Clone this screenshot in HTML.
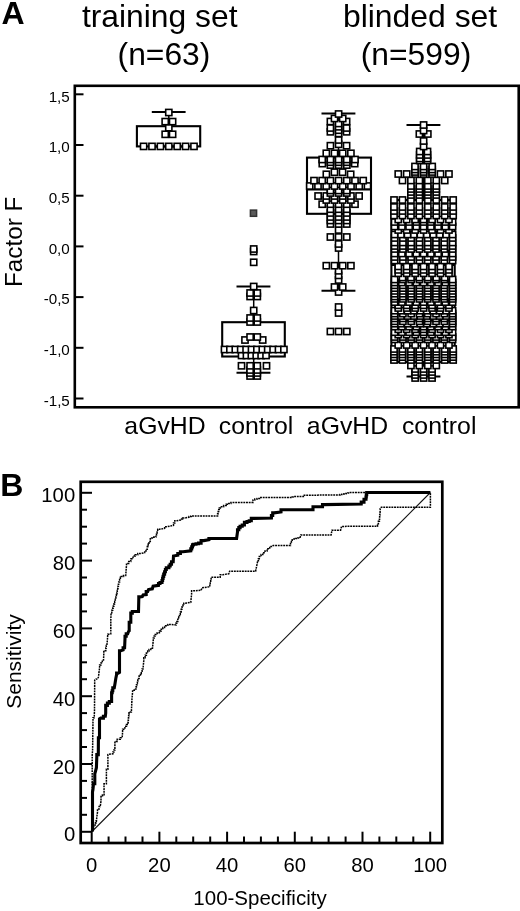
<!DOCTYPE html>
<html><head><meta charset="utf-8"><title>Figure</title>
<style>
html,body{margin:0;padding:0;background:#fff;}
body{width:520px;height:911px;overflow:hidden;}
svg{display:block;}
svg text{font-family:'Liberation Sans', Arial, Helvetica, sans-serif;fill:#000;font-variant-ligatures:none;}
</style></head><body>
<svg width="520" height="911" viewBox="0 0 520 911">
<rect width="520" height="911" fill="#fff"/>
<rect x="74.8" y="85.8" width="443.9" height="321.5" fill="none" stroke="#000" stroke-width="2.6"/>
<line x1="75" y1="94.3" x2="83.5" y2="94.3" stroke="#000" stroke-width="2"/>
<text x="69.8" y="101.6" font-size="15.2" text-anchor="end">1,5</text>
<line x1="75" y1="145.0" x2="83.5" y2="145.0" stroke="#000" stroke-width="2"/>
<text x="69.8" y="152.3" font-size="15.2" text-anchor="end">1,0</text>
<line x1="75" y1="195.7" x2="83.5" y2="195.7" stroke="#000" stroke-width="2"/>
<text x="69.8" y="203.0" font-size="15.2" text-anchor="end">0,5</text>
<line x1="75" y1="246.4" x2="83.5" y2="246.4" stroke="#000" stroke-width="2"/>
<text x="69.8" y="253.7" font-size="15.2" text-anchor="end">0,0</text>
<line x1="75" y1="297.1" x2="83.5" y2="297.1" stroke="#000" stroke-width="2"/>
<text x="69.8" y="304.4" font-size="15.2" text-anchor="end">-0,5</text>
<line x1="75" y1="347.8" x2="83.5" y2="347.8" stroke="#000" stroke-width="2"/>
<text x="69.8" y="355.1" font-size="15.2" text-anchor="end">-1,0</text>
<line x1="75" y1="398.5" x2="83.5" y2="398.5" stroke="#000" stroke-width="2"/>
<text x="69.8" y="405.8" font-size="15.2" text-anchor="end">-1,5</text>
<line x1="168.8" y1="112.0" x2="168.8" y2="126.2" stroke="#000" stroke-width="1.5"/>
<line x1="168.8" y1="146.4" x2="168.8" y2="146.4" stroke="#000" stroke-width="1.5"/>
<line x1="151.8" y1="112.0" x2="185.6" y2="112.0" stroke="#000" stroke-width="2"/>
<line x1="151.8" y1="146.4" x2="185.6" y2="146.4" stroke="#000" stroke-width="2"/>
<rect x="136.9" y="126.2" width="63.30" height="20.20" fill="none" stroke="#000" stroke-width="2.1"/>
<line x1="253.7" y1="286.5" x2="253.7" y2="322.2" stroke="#000" stroke-width="1.5"/>
<line x1="253.7" y1="356.5" x2="253.7" y2="372.7" stroke="#000" stroke-width="1.5"/>
<line x1="236.5" y1="286.5" x2="270.4" y2="286.5" stroke="#000" stroke-width="2"/>
<line x1="236.5" y1="372.7" x2="270.4" y2="372.7" stroke="#000" stroke-width="2"/>
<rect x="222.2" y="322.2" width="62.60" height="34.30" fill="none" stroke="#000" stroke-width="2.1"/>
<line x1="222.2" y1="349.5" x2="284.8" y2="349.5" stroke="#000" stroke-width="2.1"/>
<line x1="338.5" y1="113.5" x2="338.5" y2="157.6" stroke="#000" stroke-width="1.5"/>
<line x1="338.5" y1="213.8" x2="338.5" y2="290.8" stroke="#000" stroke-width="1.5"/>
<line x1="321.5" y1="113.5" x2="355.4" y2="113.5" stroke="#000" stroke-width="2"/>
<line x1="321.5" y1="290.8" x2="355.4" y2="290.8" stroke="#000" stroke-width="2"/>
<rect x="307.0" y="157.6" width="64.00" height="56.20" fill="none" stroke="#000" stroke-width="2.1"/>
<line x1="307.0" y1="189.5" x2="371.0" y2="189.5" stroke="#000" stroke-width="2.1"/>
<line x1="423.5" y1="125.0" x2="423.5" y2="200.0" stroke="#000" stroke-width="1.5"/>
<line x1="423.5" y1="362.0" x2="423.5" y2="376.5" stroke="#000" stroke-width="1.5"/>
<line x1="406.5" y1="125.0" x2="440.4" y2="125.0" stroke="#000" stroke-width="2"/>
<line x1="406.5" y1="376.5" x2="440.4" y2="376.5" stroke="#000" stroke-width="2"/>
<rect x="391.4" y="200.0" width="63.30" height="162.00" fill="none" stroke="#000" stroke-width="2.1"/>
<line x1="391.4" y1="265.0" x2="454.7" y2="265.0" stroke="#000" stroke-width="2.1"/>
<g fill="#fff" stroke="#000" stroke-width="1.6">
<rect x="412.05" y="374.90" width="6.20" height="6.20"/>
<rect x="420.50" y="374.90" width="6.20" height="6.20"/>
<rect x="428.95" y="374.90" width="6.20" height="6.20"/>
<rect x="247.00" y="372.90" width="6.20" height="6.20"/>
<rect x="254.20" y="372.90" width="6.20" height="6.20"/>
<rect x="412.05" y="371.90" width="6.20" height="6.20"/>
<rect x="420.50" y="371.90" width="6.20" height="6.20"/>
<rect x="428.95" y="371.90" width="6.20" height="6.20"/>
<rect x="247.00" y="369.90" width="6.20" height="6.20"/>
<rect x="254.20" y="369.90" width="6.20" height="6.20"/>
<rect x="412.05" y="368.90" width="6.20" height="6.20"/>
<rect x="420.50" y="368.90" width="6.20" height="6.20"/>
<rect x="428.95" y="368.90" width="6.20" height="6.20"/>
<rect x="247.00" y="366.90" width="6.20" height="6.20"/>
<rect x="254.20" y="366.90" width="6.20" height="6.20"/>
<rect x="412.05" y="365.90" width="6.20" height="6.20"/>
<rect x="420.50" y="365.90" width="6.20" height="6.20"/>
<rect x="428.95" y="365.90" width="6.20" height="6.20"/>
<rect x="238.40" y="362.70" width="6.20" height="6.20"/>
<rect x="247.00" y="362.70" width="6.20" height="6.20"/>
<rect x="254.20" y="362.70" width="6.20" height="6.20"/>
<rect x="263.40" y="362.70" width="6.20" height="6.20"/>
<rect x="407.82" y="362.40" width="6.20" height="6.20"/>
<rect x="416.27" y="362.40" width="6.20" height="6.20"/>
<rect x="424.73" y="362.40" width="6.20" height="6.20"/>
<rect x="433.18" y="362.40" width="6.20" height="6.20"/>
<rect x="390.93" y="356.90" width="6.20" height="6.20"/>
<rect x="399.38" y="356.90" width="6.20" height="6.20"/>
<rect x="407.82" y="356.90" width="6.20" height="6.20"/>
<rect x="416.27" y="356.90" width="6.20" height="6.20"/>
<rect x="424.73" y="356.90" width="6.20" height="6.20"/>
<rect x="433.18" y="356.90" width="6.20" height="6.20"/>
<rect x="441.62" y="356.90" width="6.20" height="6.20"/>
<rect x="450.07" y="356.90" width="6.20" height="6.20"/>
<rect x="390.93" y="354.00" width="6.20" height="6.20"/>
<rect x="399.38" y="354.00" width="6.20" height="6.20"/>
<rect x="407.82" y="354.00" width="6.20" height="6.20"/>
<rect x="416.27" y="354.00" width="6.20" height="6.20"/>
<rect x="424.73" y="354.00" width="6.20" height="6.20"/>
<rect x="433.18" y="354.00" width="6.20" height="6.20"/>
<rect x="441.62" y="354.00" width="6.20" height="6.20"/>
<rect x="450.07" y="354.00" width="6.20" height="6.20"/>
<rect x="238.45" y="352.40" width="6.20" height="6.20"/>
<rect x="243.35" y="352.40" width="6.20" height="6.20"/>
<rect x="248.25" y="352.40" width="6.20" height="6.20"/>
<rect x="253.15" y="352.40" width="6.20" height="6.20"/>
<rect x="258.05" y="352.40" width="6.20" height="6.20"/>
<rect x="262.95" y="352.40" width="6.20" height="6.20"/>
<rect x="390.93" y="351.30" width="6.20" height="6.20"/>
<rect x="399.38" y="351.30" width="6.20" height="6.20"/>
<rect x="407.82" y="351.30" width="6.20" height="6.20"/>
<rect x="416.27" y="351.30" width="6.20" height="6.20"/>
<rect x="424.73" y="351.30" width="6.20" height="6.20"/>
<rect x="433.18" y="351.30" width="6.20" height="6.20"/>
<rect x="441.62" y="351.30" width="6.20" height="6.20"/>
<rect x="450.07" y="351.30" width="6.20" height="6.20"/>
<rect x="390.93" y="348.60" width="6.20" height="6.20"/>
<rect x="399.38" y="348.60" width="6.20" height="6.20"/>
<rect x="407.82" y="348.60" width="6.20" height="6.20"/>
<rect x="416.27" y="348.60" width="6.20" height="6.20"/>
<rect x="424.73" y="348.60" width="6.20" height="6.20"/>
<rect x="433.18" y="348.60" width="6.20" height="6.20"/>
<rect x="441.62" y="348.60" width="6.20" height="6.20"/>
<rect x="450.07" y="348.60" width="6.20" height="6.20"/>
<rect x="221.40" y="346.40" width="6.20" height="6.20"/>
<rect x="226.80" y="346.40" width="6.20" height="6.20"/>
<rect x="232.20" y="346.40" width="6.20" height="6.20"/>
<rect x="237.60" y="346.40" width="6.20" height="6.20"/>
<rect x="243.00" y="346.40" width="6.20" height="6.20"/>
<rect x="248.40" y="346.40" width="6.20" height="6.20"/>
<rect x="253.80" y="346.40" width="6.20" height="6.20"/>
<rect x="259.20" y="346.40" width="6.20" height="6.20"/>
<rect x="264.60" y="346.40" width="6.20" height="6.20"/>
<rect x="270.00" y="346.40" width="6.20" height="6.20"/>
<rect x="275.40" y="346.40" width="6.20" height="6.20"/>
<rect x="280.80" y="346.40" width="6.20" height="6.20"/>
<rect x="390.93" y="345.90" width="6.20" height="6.20"/>
<rect x="399.38" y="345.90" width="6.20" height="6.20"/>
<rect x="407.82" y="345.90" width="6.20" height="6.20"/>
<rect x="416.27" y="345.90" width="6.20" height="6.20"/>
<rect x="424.73" y="345.90" width="6.20" height="6.20"/>
<rect x="433.18" y="345.90" width="6.20" height="6.20"/>
<rect x="441.62" y="345.90" width="6.20" height="6.20"/>
<rect x="450.07" y="345.90" width="6.20" height="6.20"/>
<rect x="395.15" y="341.90" width="6.20" height="6.20"/>
<rect x="403.60" y="341.90" width="6.20" height="6.20"/>
<rect x="412.05" y="341.90" width="6.20" height="6.20"/>
<rect x="420.50" y="341.90" width="6.20" height="6.20"/>
<rect x="428.95" y="341.90" width="6.20" height="6.20"/>
<rect x="437.40" y="341.90" width="6.20" height="6.20"/>
<rect x="445.85" y="341.90" width="6.20" height="6.20"/>
<rect x="241.90" y="336.90" width="6.20" height="6.20"/>
<rect x="259.60" y="336.90" width="6.20" height="6.20"/>
<rect x="391.50" y="336.30" width="6.20" height="6.20"/>
<rect x="399.79" y="336.30" width="6.20" height="6.20"/>
<rect x="408.07" y="336.30" width="6.20" height="6.20"/>
<rect x="416.36" y="336.30" width="6.20" height="6.20"/>
<rect x="424.64" y="336.30" width="6.20" height="6.20"/>
<rect x="432.93" y="336.30" width="6.20" height="6.20"/>
<rect x="441.21" y="336.30" width="6.20" height="6.20"/>
<rect x="449.50" y="336.30" width="6.20" height="6.20"/>
<rect x="247.00" y="333.90" width="6.20" height="6.20"/>
<rect x="254.20" y="333.90" width="6.20" height="6.20"/>
<rect x="391.50" y="333.90" width="6.20" height="6.20"/>
<rect x="399.79" y="333.90" width="6.20" height="6.20"/>
<rect x="408.07" y="333.90" width="6.20" height="6.20"/>
<rect x="416.36" y="333.90" width="6.20" height="6.20"/>
<rect x="424.64" y="333.90" width="6.20" height="6.20"/>
<rect x="432.93" y="333.90" width="6.20" height="6.20"/>
<rect x="441.21" y="333.90" width="6.20" height="6.20"/>
<rect x="449.50" y="333.90" width="6.20" height="6.20"/>
<rect x="395.15" y="331.50" width="6.20" height="6.20"/>
<rect x="403.60" y="331.50" width="6.20" height="6.20"/>
<rect x="412.05" y="331.50" width="6.20" height="6.20"/>
<rect x="420.50" y="331.50" width="6.20" height="6.20"/>
<rect x="428.95" y="331.50" width="6.20" height="6.20"/>
<rect x="437.40" y="331.50" width="6.20" height="6.20"/>
<rect x="445.85" y="331.50" width="6.20" height="6.20"/>
<rect x="391.50" y="329.10" width="6.20" height="6.20"/>
<rect x="398.75" y="329.10" width="6.20" height="6.20"/>
<rect x="406.00" y="329.10" width="6.20" height="6.20"/>
<rect x="413.25" y="329.10" width="6.20" height="6.20"/>
<rect x="420.50" y="329.10" width="6.20" height="6.20"/>
<rect x="427.75" y="329.10" width="6.20" height="6.20"/>
<rect x="435.00" y="329.10" width="6.20" height="6.20"/>
<rect x="442.25" y="329.10" width="6.20" height="6.20"/>
<rect x="449.50" y="329.10" width="6.20" height="6.20"/>
<rect x="327.30" y="328.40" width="6.20" height="6.20"/>
<rect x="335.50" y="328.40" width="6.20" height="6.20"/>
<rect x="343.70" y="328.40" width="6.20" height="6.20"/>
<rect x="395.15" y="326.20" width="6.20" height="6.20"/>
<rect x="403.60" y="326.20" width="6.20" height="6.20"/>
<rect x="412.05" y="326.20" width="6.20" height="6.20"/>
<rect x="420.50" y="326.20" width="6.20" height="6.20"/>
<rect x="428.95" y="326.20" width="6.20" height="6.20"/>
<rect x="437.40" y="326.20" width="6.20" height="6.20"/>
<rect x="445.85" y="326.20" width="6.20" height="6.20"/>
<rect x="391.50" y="323.50" width="6.20" height="6.20"/>
<rect x="398.75" y="323.50" width="6.20" height="6.20"/>
<rect x="406.00" y="323.50" width="6.20" height="6.20"/>
<rect x="413.25" y="323.50" width="6.20" height="6.20"/>
<rect x="420.50" y="323.50" width="6.20" height="6.20"/>
<rect x="427.75" y="323.50" width="6.20" height="6.20"/>
<rect x="435.00" y="323.50" width="6.20" height="6.20"/>
<rect x="442.25" y="323.50" width="6.20" height="6.20"/>
<rect x="449.50" y="323.50" width="6.20" height="6.20"/>
<rect x="391.50" y="320.60" width="6.20" height="6.20"/>
<rect x="397.94" y="320.60" width="6.20" height="6.20"/>
<rect x="404.39" y="320.60" width="6.20" height="6.20"/>
<rect x="410.83" y="320.60" width="6.20" height="6.20"/>
<rect x="417.28" y="320.60" width="6.20" height="6.20"/>
<rect x="423.72" y="320.60" width="6.20" height="6.20"/>
<rect x="430.17" y="320.60" width="6.20" height="6.20"/>
<rect x="436.61" y="320.60" width="6.20" height="6.20"/>
<rect x="443.06" y="320.60" width="6.20" height="6.20"/>
<rect x="449.50" y="320.60" width="6.20" height="6.20"/>
<rect x="247.00" y="318.90" width="6.20" height="6.20"/>
<rect x="254.20" y="318.90" width="6.20" height="6.20"/>
<rect x="391.50" y="318.20" width="6.20" height="6.20"/>
<rect x="399.79" y="318.20" width="6.20" height="6.20"/>
<rect x="408.07" y="318.20" width="6.20" height="6.20"/>
<rect x="416.36" y="318.20" width="6.20" height="6.20"/>
<rect x="424.64" y="318.20" width="6.20" height="6.20"/>
<rect x="432.93" y="318.20" width="6.20" height="6.20"/>
<rect x="441.21" y="318.20" width="6.20" height="6.20"/>
<rect x="449.50" y="318.20" width="6.20" height="6.20"/>
<rect x="391.50" y="315.30" width="6.20" height="6.20"/>
<rect x="399.79" y="315.30" width="6.20" height="6.20"/>
<rect x="408.07" y="315.30" width="6.20" height="6.20"/>
<rect x="416.36" y="315.30" width="6.20" height="6.20"/>
<rect x="424.64" y="315.30" width="6.20" height="6.20"/>
<rect x="432.93" y="315.30" width="6.20" height="6.20"/>
<rect x="441.21" y="315.30" width="6.20" height="6.20"/>
<rect x="449.50" y="315.30" width="6.20" height="6.20"/>
<rect x="247.00" y="314.90" width="6.20" height="6.20"/>
<rect x="254.20" y="314.90" width="6.20" height="6.20"/>
<rect x="391.50" y="312.90" width="6.20" height="6.20"/>
<rect x="397.94" y="312.90" width="6.20" height="6.20"/>
<rect x="404.39" y="312.90" width="6.20" height="6.20"/>
<rect x="410.83" y="312.90" width="6.20" height="6.20"/>
<rect x="417.28" y="312.90" width="6.20" height="6.20"/>
<rect x="423.72" y="312.90" width="6.20" height="6.20"/>
<rect x="430.17" y="312.90" width="6.20" height="6.20"/>
<rect x="436.61" y="312.90" width="6.20" height="6.20"/>
<rect x="443.06" y="312.90" width="6.20" height="6.20"/>
<rect x="449.50" y="312.90" width="6.20" height="6.20"/>
<rect x="391.50" y="310.50" width="6.20" height="6.20"/>
<rect x="399.79" y="310.50" width="6.20" height="6.20"/>
<rect x="408.07" y="310.50" width="6.20" height="6.20"/>
<rect x="416.36" y="310.50" width="6.20" height="6.20"/>
<rect x="424.64" y="310.50" width="6.20" height="6.20"/>
<rect x="432.93" y="310.50" width="6.20" height="6.20"/>
<rect x="441.21" y="310.50" width="6.20" height="6.20"/>
<rect x="449.50" y="310.50" width="6.20" height="6.20"/>
<rect x="335.50" y="309.90" width="6.20" height="6.20"/>
<rect x="391.50" y="307.60" width="6.20" height="6.20"/>
<rect x="397.94" y="307.60" width="6.20" height="6.20"/>
<rect x="404.39" y="307.60" width="6.20" height="6.20"/>
<rect x="410.83" y="307.60" width="6.20" height="6.20"/>
<rect x="417.28" y="307.60" width="6.20" height="6.20"/>
<rect x="423.72" y="307.60" width="6.20" height="6.20"/>
<rect x="430.17" y="307.60" width="6.20" height="6.20"/>
<rect x="436.61" y="307.60" width="6.20" height="6.20"/>
<rect x="443.06" y="307.60" width="6.20" height="6.20"/>
<rect x="449.50" y="307.60" width="6.20" height="6.20"/>
<rect x="250.60" y="307.40" width="6.20" height="6.20"/>
<rect x="395.15" y="304.90" width="6.20" height="6.20"/>
<rect x="403.60" y="304.90" width="6.20" height="6.20"/>
<rect x="412.05" y="304.90" width="6.20" height="6.20"/>
<rect x="420.50" y="304.90" width="6.20" height="6.20"/>
<rect x="428.95" y="304.90" width="6.20" height="6.20"/>
<rect x="437.40" y="304.90" width="6.20" height="6.20"/>
<rect x="445.85" y="304.90" width="6.20" height="6.20"/>
<rect x="335.50" y="303.90" width="6.20" height="6.20"/>
<rect x="395.15" y="302.20" width="6.20" height="6.20"/>
<rect x="403.60" y="302.20" width="6.20" height="6.20"/>
<rect x="412.05" y="302.20" width="6.20" height="6.20"/>
<rect x="420.50" y="302.20" width="6.20" height="6.20"/>
<rect x="428.95" y="302.20" width="6.20" height="6.20"/>
<rect x="437.40" y="302.20" width="6.20" height="6.20"/>
<rect x="445.85" y="302.20" width="6.20" height="6.20"/>
<rect x="391.50" y="299.00" width="6.20" height="6.20"/>
<rect x="398.75" y="299.00" width="6.20" height="6.20"/>
<rect x="406.00" y="299.00" width="6.20" height="6.20"/>
<rect x="413.25" y="299.00" width="6.20" height="6.20"/>
<rect x="420.50" y="299.00" width="6.20" height="6.20"/>
<rect x="427.75" y="299.00" width="6.20" height="6.20"/>
<rect x="435.00" y="299.00" width="6.20" height="6.20"/>
<rect x="442.25" y="299.00" width="6.20" height="6.20"/>
<rect x="449.50" y="299.00" width="6.20" height="6.20"/>
<rect x="391.50" y="295.80" width="6.20" height="6.20"/>
<rect x="399.79" y="295.80" width="6.20" height="6.20"/>
<rect x="408.07" y="295.80" width="6.20" height="6.20"/>
<rect x="416.36" y="295.80" width="6.20" height="6.20"/>
<rect x="424.64" y="295.80" width="6.20" height="6.20"/>
<rect x="432.93" y="295.80" width="6.20" height="6.20"/>
<rect x="441.21" y="295.80" width="6.20" height="6.20"/>
<rect x="449.50" y="295.80" width="6.20" height="6.20"/>
<rect x="247.00" y="293.40" width="6.20" height="6.20"/>
<rect x="254.20" y="293.40" width="6.20" height="6.20"/>
<rect x="391.50" y="293.40" width="6.20" height="6.20"/>
<rect x="399.79" y="293.40" width="6.20" height="6.20"/>
<rect x="408.07" y="293.40" width="6.20" height="6.20"/>
<rect x="416.36" y="293.40" width="6.20" height="6.20"/>
<rect x="424.64" y="293.40" width="6.20" height="6.20"/>
<rect x="432.93" y="293.40" width="6.20" height="6.20"/>
<rect x="441.21" y="293.40" width="6.20" height="6.20"/>
<rect x="449.50" y="293.40" width="6.20" height="6.20"/>
<rect x="391.50" y="290.60" width="6.20" height="6.20"/>
<rect x="399.79" y="290.60" width="6.20" height="6.20"/>
<rect x="408.07" y="290.60" width="6.20" height="6.20"/>
<rect x="416.36" y="290.60" width="6.20" height="6.20"/>
<rect x="424.64" y="290.60" width="6.20" height="6.20"/>
<rect x="432.93" y="290.60" width="6.20" height="6.20"/>
<rect x="441.21" y="290.60" width="6.20" height="6.20"/>
<rect x="449.50" y="290.60" width="6.20" height="6.20"/>
<rect x="247.00" y="289.90" width="6.20" height="6.20"/>
<rect x="254.20" y="289.90" width="6.20" height="6.20"/>
<rect x="335.50" y="288.90" width="6.20" height="6.20"/>
<rect x="391.50" y="287.80" width="6.20" height="6.20"/>
<rect x="399.79" y="287.80" width="6.20" height="6.20"/>
<rect x="408.07" y="287.80" width="6.20" height="6.20"/>
<rect x="416.36" y="287.80" width="6.20" height="6.20"/>
<rect x="424.64" y="287.80" width="6.20" height="6.20"/>
<rect x="432.93" y="287.80" width="6.20" height="6.20"/>
<rect x="441.21" y="287.80" width="6.20" height="6.20"/>
<rect x="449.50" y="287.80" width="6.20" height="6.20"/>
<rect x="391.50" y="285.00" width="6.20" height="6.20"/>
<rect x="399.79" y="285.00" width="6.20" height="6.20"/>
<rect x="408.07" y="285.00" width="6.20" height="6.20"/>
<rect x="416.36" y="285.00" width="6.20" height="6.20"/>
<rect x="424.64" y="285.00" width="6.20" height="6.20"/>
<rect x="432.93" y="285.00" width="6.20" height="6.20"/>
<rect x="441.21" y="285.00" width="6.20" height="6.20"/>
<rect x="449.50" y="285.00" width="6.20" height="6.20"/>
<rect x="331.40" y="283.90" width="6.20" height="6.20"/>
<rect x="339.60" y="283.90" width="6.20" height="6.20"/>
<rect x="250.60" y="283.40" width="6.20" height="6.20"/>
<rect x="391.50" y="282.20" width="6.20" height="6.20"/>
<rect x="399.79" y="282.20" width="6.20" height="6.20"/>
<rect x="408.07" y="282.20" width="6.20" height="6.20"/>
<rect x="416.36" y="282.20" width="6.20" height="6.20"/>
<rect x="424.64" y="282.20" width="6.20" height="6.20"/>
<rect x="432.93" y="282.20" width="6.20" height="6.20"/>
<rect x="441.21" y="282.20" width="6.20" height="6.20"/>
<rect x="449.50" y="282.20" width="6.20" height="6.20"/>
<rect x="391.50" y="279.40" width="6.20" height="6.20"/>
<rect x="398.75" y="279.40" width="6.20" height="6.20"/>
<rect x="406.00" y="279.40" width="6.20" height="6.20"/>
<rect x="413.25" y="279.40" width="6.20" height="6.20"/>
<rect x="420.50" y="279.40" width="6.20" height="6.20"/>
<rect x="427.75" y="279.40" width="6.20" height="6.20"/>
<rect x="435.00" y="279.40" width="6.20" height="6.20"/>
<rect x="442.25" y="279.40" width="6.20" height="6.20"/>
<rect x="449.50" y="279.40" width="6.20" height="6.20"/>
<rect x="335.50" y="276.90" width="6.20" height="6.20"/>
<rect x="391.50" y="276.40" width="6.20" height="6.20"/>
<rect x="399.79" y="276.40" width="6.20" height="6.20"/>
<rect x="408.07" y="276.40" width="6.20" height="6.20"/>
<rect x="416.36" y="276.40" width="6.20" height="6.20"/>
<rect x="424.64" y="276.40" width="6.20" height="6.20"/>
<rect x="432.93" y="276.40" width="6.20" height="6.20"/>
<rect x="441.21" y="276.40" width="6.20" height="6.20"/>
<rect x="449.50" y="276.40" width="6.20" height="6.20"/>
<rect x="399.38" y="274.40" width="6.20" height="6.20"/>
<rect x="407.82" y="274.40" width="6.20" height="6.20"/>
<rect x="416.27" y="274.40" width="6.20" height="6.20"/>
<rect x="424.73" y="274.40" width="6.20" height="6.20"/>
<rect x="433.18" y="274.40" width="6.20" height="6.20"/>
<rect x="441.62" y="274.40" width="6.20" height="6.20"/>
<rect x="335.50" y="272.30" width="6.20" height="6.20"/>
<rect x="395.15" y="270.20" width="6.20" height="6.20"/>
<rect x="403.60" y="270.20" width="6.20" height="6.20"/>
<rect x="412.05" y="270.20" width="6.20" height="6.20"/>
<rect x="420.50" y="270.20" width="6.20" height="6.20"/>
<rect x="428.95" y="270.20" width="6.20" height="6.20"/>
<rect x="437.40" y="270.20" width="6.20" height="6.20"/>
<rect x="445.85" y="270.20" width="6.20" height="6.20"/>
<rect x="335.50" y="267.70" width="6.20" height="6.20"/>
<rect x="395.15" y="266.80" width="6.20" height="6.20"/>
<rect x="403.60" y="266.80" width="6.20" height="6.20"/>
<rect x="412.05" y="266.80" width="6.20" height="6.20"/>
<rect x="420.50" y="266.80" width="6.20" height="6.20"/>
<rect x="428.95" y="266.80" width="6.20" height="6.20"/>
<rect x="437.40" y="266.80" width="6.20" height="6.20"/>
<rect x="445.85" y="266.80" width="6.20" height="6.20"/>
<rect x="395.15" y="263.30" width="6.20" height="6.20"/>
<rect x="403.60" y="263.30" width="6.20" height="6.20"/>
<rect x="412.05" y="263.30" width="6.20" height="6.20"/>
<rect x="420.50" y="263.30" width="6.20" height="6.20"/>
<rect x="428.95" y="263.30" width="6.20" height="6.20"/>
<rect x="437.40" y="263.30" width="6.20" height="6.20"/>
<rect x="445.85" y="263.30" width="6.20" height="6.20"/>
<rect x="323.20" y="262.60" width="6.20" height="6.20"/>
<rect x="331.40" y="262.60" width="6.20" height="6.20"/>
<rect x="339.60" y="262.60" width="6.20" height="6.20"/>
<rect x="347.80" y="262.60" width="6.20" height="6.20"/>
<rect x="250.60" y="259.20" width="6.20" height="6.20"/>
<rect x="391.50" y="257.40" width="6.20" height="6.20"/>
<rect x="399.79" y="257.40" width="6.20" height="6.20"/>
<rect x="408.07" y="257.40" width="6.20" height="6.20"/>
<rect x="416.36" y="257.40" width="6.20" height="6.20"/>
<rect x="424.64" y="257.40" width="6.20" height="6.20"/>
<rect x="432.93" y="257.40" width="6.20" height="6.20"/>
<rect x="441.21" y="257.40" width="6.20" height="6.20"/>
<rect x="449.50" y="257.40" width="6.20" height="6.20"/>
<rect x="391.50" y="253.90" width="6.20" height="6.20"/>
<rect x="399.79" y="253.90" width="6.20" height="6.20"/>
<rect x="408.07" y="253.90" width="6.20" height="6.20"/>
<rect x="416.36" y="253.90" width="6.20" height="6.20"/>
<rect x="424.64" y="253.90" width="6.20" height="6.20"/>
<rect x="432.93" y="253.90" width="6.20" height="6.20"/>
<rect x="441.21" y="253.90" width="6.20" height="6.20"/>
<rect x="449.50" y="253.90" width="6.20" height="6.20"/>
<rect x="391.50" y="250.40" width="6.20" height="6.20"/>
<rect x="398.75" y="250.40" width="6.20" height="6.20"/>
<rect x="406.00" y="250.40" width="6.20" height="6.20"/>
<rect x="413.25" y="250.40" width="6.20" height="6.20"/>
<rect x="420.50" y="250.40" width="6.20" height="6.20"/>
<rect x="427.75" y="250.40" width="6.20" height="6.20"/>
<rect x="435.00" y="250.40" width="6.20" height="6.20"/>
<rect x="442.25" y="250.40" width="6.20" height="6.20"/>
<rect x="449.50" y="250.40" width="6.20" height="6.20"/>
<rect x="250.60" y="248.40" width="6.20" height="6.20"/>
<rect x="250.60" y="245.90" width="6.20" height="6.20"/>
<rect x="391.50" y="245.90" width="6.20" height="6.20"/>
<rect x="399.79" y="245.90" width="6.20" height="6.20"/>
<rect x="408.07" y="245.90" width="6.20" height="6.20"/>
<rect x="416.36" y="245.90" width="6.20" height="6.20"/>
<rect x="424.64" y="245.90" width="6.20" height="6.20"/>
<rect x="432.93" y="245.90" width="6.20" height="6.20"/>
<rect x="441.21" y="245.90" width="6.20" height="6.20"/>
<rect x="449.50" y="245.90" width="6.20" height="6.20"/>
<rect x="335.50" y="244.90" width="6.20" height="6.20"/>
<rect x="391.50" y="242.90" width="6.20" height="6.20"/>
<rect x="399.79" y="242.90" width="6.20" height="6.20"/>
<rect x="408.07" y="242.90" width="6.20" height="6.20"/>
<rect x="416.36" y="242.90" width="6.20" height="6.20"/>
<rect x="424.64" y="242.90" width="6.20" height="6.20"/>
<rect x="432.93" y="242.90" width="6.20" height="6.20"/>
<rect x="441.21" y="242.90" width="6.20" height="6.20"/>
<rect x="449.50" y="242.90" width="6.20" height="6.20"/>
<rect x="335.50" y="240.90" width="6.20" height="6.20"/>
<rect x="391.50" y="239.40" width="6.20" height="6.20"/>
<rect x="399.79" y="239.40" width="6.20" height="6.20"/>
<rect x="408.07" y="239.40" width="6.20" height="6.20"/>
<rect x="416.36" y="239.40" width="6.20" height="6.20"/>
<rect x="424.64" y="239.40" width="6.20" height="6.20"/>
<rect x="432.93" y="239.40" width="6.20" height="6.20"/>
<rect x="441.21" y="239.40" width="6.20" height="6.20"/>
<rect x="449.50" y="239.40" width="6.20" height="6.20"/>
<rect x="391.50" y="234.90" width="6.20" height="6.20"/>
<rect x="399.79" y="234.90" width="6.20" height="6.20"/>
<rect x="408.07" y="234.90" width="6.20" height="6.20"/>
<rect x="416.36" y="234.90" width="6.20" height="6.20"/>
<rect x="424.64" y="234.90" width="6.20" height="6.20"/>
<rect x="432.93" y="234.90" width="6.20" height="6.20"/>
<rect x="441.21" y="234.90" width="6.20" height="6.20"/>
<rect x="449.50" y="234.90" width="6.20" height="6.20"/>
<rect x="327.30" y="233.90" width="6.20" height="6.20"/>
<rect x="335.50" y="233.90" width="6.20" height="6.20"/>
<rect x="343.70" y="233.90" width="6.20" height="6.20"/>
<rect x="391.50" y="231.40" width="6.20" height="6.20"/>
<rect x="397.94" y="231.40" width="6.20" height="6.20"/>
<rect x="404.39" y="231.40" width="6.20" height="6.20"/>
<rect x="410.83" y="231.40" width="6.20" height="6.20"/>
<rect x="417.28" y="231.40" width="6.20" height="6.20"/>
<rect x="423.72" y="231.40" width="6.20" height="6.20"/>
<rect x="430.17" y="231.40" width="6.20" height="6.20"/>
<rect x="436.61" y="231.40" width="6.20" height="6.20"/>
<rect x="443.06" y="231.40" width="6.20" height="6.20"/>
<rect x="449.50" y="231.40" width="6.20" height="6.20"/>
<rect x="335.50" y="226.90" width="6.20" height="6.20"/>
<rect x="395.15" y="226.90" width="6.20" height="6.20"/>
<rect x="403.60" y="226.90" width="6.20" height="6.20"/>
<rect x="412.05" y="226.90" width="6.20" height="6.20"/>
<rect x="420.50" y="226.90" width="6.20" height="6.20"/>
<rect x="428.95" y="226.90" width="6.20" height="6.20"/>
<rect x="437.40" y="226.90" width="6.20" height="6.20"/>
<rect x="445.85" y="226.90" width="6.20" height="6.20"/>
<rect x="391.50" y="223.40" width="6.20" height="6.20"/>
<rect x="398.75" y="223.40" width="6.20" height="6.20"/>
<rect x="406.00" y="223.40" width="6.20" height="6.20"/>
<rect x="413.25" y="223.40" width="6.20" height="6.20"/>
<rect x="420.50" y="223.40" width="6.20" height="6.20"/>
<rect x="427.75" y="223.40" width="6.20" height="6.20"/>
<rect x="435.00" y="223.40" width="6.20" height="6.20"/>
<rect x="442.25" y="223.40" width="6.20" height="6.20"/>
<rect x="449.50" y="223.40" width="6.20" height="6.20"/>
<rect x="327.30" y="220.90" width="6.20" height="6.20"/>
<rect x="335.50" y="220.90" width="6.20" height="6.20"/>
<rect x="343.70" y="220.90" width="6.20" height="6.20"/>
<rect x="391.50" y="218.90" width="6.20" height="6.20"/>
<rect x="398.75" y="218.90" width="6.20" height="6.20"/>
<rect x="406.00" y="218.90" width="6.20" height="6.20"/>
<rect x="413.25" y="218.90" width="6.20" height="6.20"/>
<rect x="420.50" y="218.90" width="6.20" height="6.20"/>
<rect x="427.75" y="218.90" width="6.20" height="6.20"/>
<rect x="435.00" y="218.90" width="6.20" height="6.20"/>
<rect x="442.25" y="218.90" width="6.20" height="6.20"/>
<rect x="449.50" y="218.90" width="6.20" height="6.20"/>
<rect x="327.30" y="217.40" width="6.20" height="6.20"/>
<rect x="335.50" y="217.40" width="6.20" height="6.20"/>
<rect x="343.70" y="217.40" width="6.20" height="6.20"/>
<rect x="395.15" y="216.40" width="6.20" height="6.20"/>
<rect x="403.60" y="216.40" width="6.20" height="6.20"/>
<rect x="412.05" y="216.40" width="6.20" height="6.20"/>
<rect x="420.50" y="216.40" width="6.20" height="6.20"/>
<rect x="428.95" y="216.40" width="6.20" height="6.20"/>
<rect x="437.40" y="216.40" width="6.20" height="6.20"/>
<rect x="445.85" y="216.40" width="6.20" height="6.20"/>
<rect x="327.30" y="213.90" width="6.20" height="6.20"/>
<rect x="335.50" y="213.90" width="6.20" height="6.20"/>
<rect x="343.70" y="213.90" width="6.20" height="6.20"/>
<rect x="390.93" y="212.40" width="6.20" height="6.20"/>
<rect x="399.38" y="212.40" width="6.20" height="6.20"/>
<rect x="407.82" y="212.40" width="6.20" height="6.20"/>
<rect x="416.27" y="212.40" width="6.20" height="6.20"/>
<rect x="424.73" y="212.40" width="6.20" height="6.20"/>
<rect x="433.18" y="212.40" width="6.20" height="6.20"/>
<rect x="441.62" y="212.40" width="6.20" height="6.20"/>
<rect x="450.07" y="212.40" width="6.20" height="6.20"/>
<rect x="327.30" y="209.90" width="6.20" height="6.20"/>
<rect x="335.50" y="209.90" width="6.20" height="6.20"/>
<rect x="343.70" y="209.90" width="6.20" height="6.20"/>
<rect x="390.93" y="207.90" width="6.20" height="6.20"/>
<rect x="399.38" y="207.90" width="6.20" height="6.20"/>
<rect x="407.82" y="207.90" width="6.20" height="6.20"/>
<rect x="416.27" y="207.90" width="6.20" height="6.20"/>
<rect x="424.73" y="207.90" width="6.20" height="6.20"/>
<rect x="433.18" y="207.90" width="6.20" height="6.20"/>
<rect x="441.62" y="207.90" width="6.20" height="6.20"/>
<rect x="450.07" y="207.90" width="6.20" height="6.20"/>
<rect x="327.30" y="206.10" width="6.20" height="6.20"/>
<rect x="335.50" y="206.10" width="6.20" height="6.20"/>
<rect x="343.70" y="206.10" width="6.20" height="6.20"/>
<rect x="390.93" y="203.90" width="6.20" height="6.20"/>
<rect x="399.38" y="203.90" width="6.20" height="6.20"/>
<rect x="407.82" y="203.90" width="6.20" height="6.20"/>
<rect x="416.27" y="203.90" width="6.20" height="6.20"/>
<rect x="424.73" y="203.90" width="6.20" height="6.20"/>
<rect x="433.18" y="203.90" width="6.20" height="6.20"/>
<rect x="441.62" y="203.90" width="6.20" height="6.20"/>
<rect x="450.07" y="203.90" width="6.20" height="6.20"/>
<rect x="319.10" y="201.10" width="6.20" height="6.20"/>
<rect x="327.30" y="201.10" width="6.20" height="6.20"/>
<rect x="335.50" y="201.10" width="6.20" height="6.20"/>
<rect x="343.70" y="201.10" width="6.20" height="6.20"/>
<rect x="351.90" y="201.10" width="6.20" height="6.20"/>
<rect x="323.20" y="196.90" width="6.20" height="6.20"/>
<rect x="331.40" y="196.90" width="6.20" height="6.20"/>
<rect x="339.60" y="196.90" width="6.20" height="6.20"/>
<rect x="347.80" y="196.90" width="6.20" height="6.20"/>
<rect x="390.93" y="196.90" width="6.20" height="6.20"/>
<rect x="399.38" y="196.90" width="6.20" height="6.20"/>
<rect x="407.82" y="196.90" width="6.20" height="6.20"/>
<rect x="416.27" y="196.90" width="6.20" height="6.20"/>
<rect x="424.73" y="196.90" width="6.20" height="6.20"/>
<rect x="433.18" y="196.90" width="6.20" height="6.20"/>
<rect x="441.62" y="196.90" width="6.20" height="6.20"/>
<rect x="450.07" y="196.90" width="6.20" height="6.20"/>
<rect x="315.00" y="192.90" width="6.20" height="6.20"/>
<rect x="323.20" y="192.90" width="6.20" height="6.20"/>
<rect x="331.40" y="192.90" width="6.20" height="6.20"/>
<rect x="339.60" y="192.90" width="6.20" height="6.20"/>
<rect x="347.80" y="192.90" width="6.20" height="6.20"/>
<rect x="356.00" y="192.90" width="6.20" height="6.20"/>
<rect x="407.82" y="191.90" width="6.20" height="6.20"/>
<rect x="416.27" y="191.90" width="6.20" height="6.20"/>
<rect x="424.73" y="191.90" width="6.20" height="6.20"/>
<rect x="433.18" y="191.90" width="6.20" height="6.20"/>
<rect x="327.30" y="189.90" width="6.20" height="6.20"/>
<rect x="335.50" y="189.90" width="6.20" height="6.20"/>
<rect x="343.70" y="189.90" width="6.20" height="6.20"/>
<rect x="407.82" y="188.90" width="6.20" height="6.20"/>
<rect x="416.27" y="188.90" width="6.20" height="6.20"/>
<rect x="424.73" y="188.90" width="6.20" height="6.20"/>
<rect x="433.18" y="188.90" width="6.20" height="6.20"/>
<rect x="327.30" y="187.40" width="6.20" height="6.20"/>
<rect x="335.50" y="187.40" width="6.20" height="6.20"/>
<rect x="343.70" y="187.40" width="6.20" height="6.20"/>
<rect x="407.82" y="185.90" width="6.20" height="6.20"/>
<rect x="416.27" y="185.90" width="6.20" height="6.20"/>
<rect x="424.73" y="185.90" width="6.20" height="6.20"/>
<rect x="433.18" y="185.90" width="6.20" height="6.20"/>
<rect x="306.62" y="182.90" width="6.20" height="6.20"/>
<rect x="314.88" y="182.90" width="6.20" height="6.20"/>
<rect x="323.12" y="182.90" width="6.20" height="6.20"/>
<rect x="331.38" y="182.90" width="6.20" height="6.20"/>
<rect x="339.62" y="182.90" width="6.20" height="6.20"/>
<rect x="347.88" y="182.90" width="6.20" height="6.20"/>
<rect x="356.12" y="182.90" width="6.20" height="6.20"/>
<rect x="364.38" y="182.90" width="6.20" height="6.20"/>
<rect x="407.82" y="182.90" width="6.20" height="6.20"/>
<rect x="416.27" y="182.90" width="6.20" height="6.20"/>
<rect x="424.73" y="182.90" width="6.20" height="6.20"/>
<rect x="433.18" y="182.90" width="6.20" height="6.20"/>
<rect x="310.90" y="177.50" width="6.20" height="6.20"/>
<rect x="319.10" y="177.50" width="6.20" height="6.20"/>
<rect x="327.30" y="177.50" width="6.20" height="6.20"/>
<rect x="335.50" y="177.50" width="6.20" height="6.20"/>
<rect x="343.70" y="177.50" width="6.20" height="6.20"/>
<rect x="351.90" y="177.50" width="6.20" height="6.20"/>
<rect x="360.10" y="177.50" width="6.20" height="6.20"/>
<rect x="399.38" y="177.40" width="6.20" height="6.20"/>
<rect x="407.82" y="177.40" width="6.20" height="6.20"/>
<rect x="416.27" y="177.40" width="6.20" height="6.20"/>
<rect x="424.73" y="177.40" width="6.20" height="6.20"/>
<rect x="433.18" y="177.40" width="6.20" height="6.20"/>
<rect x="441.62" y="177.40" width="6.20" height="6.20"/>
<rect x="323.25" y="171.20" width="6.20" height="6.20"/>
<rect x="347.55" y="171.20" width="6.20" height="6.20"/>
<rect x="395.15" y="170.90" width="6.20" height="6.20"/>
<rect x="403.60" y="170.90" width="6.20" height="6.20"/>
<rect x="412.05" y="170.90" width="6.20" height="6.20"/>
<rect x="420.50" y="170.90" width="6.20" height="6.20"/>
<rect x="428.95" y="170.90" width="6.20" height="6.20"/>
<rect x="437.40" y="170.90" width="6.20" height="6.20"/>
<rect x="445.85" y="170.90" width="6.20" height="6.20"/>
<rect x="331.35" y="169.10" width="6.20" height="6.20"/>
<rect x="339.45" y="169.10" width="6.20" height="6.20"/>
<rect x="411.90" y="168.90" width="6.20" height="6.20"/>
<rect x="420.50" y="168.90" width="6.20" height="6.20"/>
<rect x="429.10" y="168.90" width="6.20" height="6.20"/>
<rect x="411.90" y="166.40" width="6.20" height="6.20"/>
<rect x="420.50" y="166.40" width="6.20" height="6.20"/>
<rect x="429.10" y="166.40" width="6.20" height="6.20"/>
<rect x="411.90" y="163.40" width="6.20" height="6.20"/>
<rect x="420.50" y="163.40" width="6.20" height="6.20"/>
<rect x="429.10" y="163.40" width="6.20" height="6.20"/>
<rect x="327.30" y="162.00" width="6.20" height="6.20"/>
<rect x="335.50" y="162.00" width="6.20" height="6.20"/>
<rect x="343.70" y="162.00" width="6.20" height="6.20"/>
<rect x="319.20" y="160.50" width="6.20" height="6.20"/>
<rect x="351.60" y="160.50" width="6.20" height="6.20"/>
<rect x="327.30" y="159.10" width="6.20" height="6.20"/>
<rect x="335.50" y="159.10" width="6.20" height="6.20"/>
<rect x="343.70" y="159.10" width="6.20" height="6.20"/>
<rect x="416.60" y="157.40" width="6.20" height="6.20"/>
<rect x="424.40" y="157.40" width="6.20" height="6.20"/>
<rect x="319.10" y="156.40" width="6.20" height="6.20"/>
<rect x="327.30" y="156.40" width="6.20" height="6.20"/>
<rect x="335.50" y="156.40" width="6.20" height="6.20"/>
<rect x="343.70" y="156.40" width="6.20" height="6.20"/>
<rect x="351.90" y="156.40" width="6.20" height="6.20"/>
<rect x="416.60" y="155.40" width="6.20" height="6.20"/>
<rect x="424.40" y="155.40" width="6.20" height="6.20"/>
<rect x="416.60" y="151.90" width="6.20" height="6.20"/>
<rect x="424.40" y="151.90" width="6.20" height="6.20"/>
<rect x="323.20" y="150.20" width="6.20" height="6.20"/>
<rect x="331.40" y="150.20" width="6.20" height="6.20"/>
<rect x="339.60" y="150.20" width="6.20" height="6.20"/>
<rect x="347.80" y="150.20" width="6.20" height="6.20"/>
<rect x="416.60" y="148.40" width="6.20" height="6.20"/>
<rect x="424.40" y="148.40" width="6.20" height="6.20"/>
<rect x="420.50" y="143.40" width="6.20" height="6.20"/>
<rect x="140.50" y="143.30" width="6.20" height="6.20"/>
<rect x="148.90" y="143.30" width="6.20" height="6.20"/>
<rect x="157.30" y="143.30" width="6.20" height="6.20"/>
<rect x="165.70" y="143.30" width="6.20" height="6.20"/>
<rect x="174.10" y="143.30" width="6.20" height="6.20"/>
<rect x="182.50" y="143.30" width="6.20" height="6.20"/>
<rect x="190.90" y="143.30" width="6.20" height="6.20"/>
<rect x="327.30" y="142.60" width="6.20" height="6.20"/>
<rect x="343.50" y="142.60" width="6.20" height="6.20"/>
<rect x="335.50" y="141.20" width="6.20" height="6.20"/>
<rect x="420.50" y="137.90" width="6.20" height="6.20"/>
<rect x="335.50" y="136.90" width="6.20" height="6.20"/>
<rect x="162.10" y="131.20" width="6.20" height="6.20"/>
<rect x="169.50" y="131.20" width="6.20" height="6.20"/>
<rect x="416.27" y="130.90" width="6.20" height="6.20"/>
<rect x="424.73" y="130.90" width="6.20" height="6.20"/>
<rect x="335.50" y="130.40" width="6.20" height="6.20"/>
<rect x="327.30" y="128.70" width="6.20" height="6.20"/>
<rect x="343.50" y="128.70" width="6.20" height="6.20"/>
<rect x="420.50" y="127.40" width="6.20" height="6.20"/>
<rect x="335.50" y="127.10" width="6.20" height="6.20"/>
<rect x="327.30" y="124.90" width="6.20" height="6.20"/>
<rect x="343.50" y="124.90" width="6.20" height="6.20"/>
<rect x="165.70" y="124.60" width="6.20" height="6.20"/>
<rect x="335.50" y="123.70" width="6.20" height="6.20"/>
<rect x="420.50" y="121.90" width="6.20" height="6.20"/>
<rect x="335.50" y="120.40" width="6.20" height="6.20"/>
<rect x="162.10" y="118.50" width="6.20" height="6.20"/>
<rect x="169.50" y="118.50" width="6.20" height="6.20"/>
<rect x="327.30" y="118.40" width="6.20" height="6.20"/>
<rect x="343.50" y="118.40" width="6.20" height="6.20"/>
<rect x="331.40" y="115.40" width="6.20" height="6.20"/>
<rect x="339.60" y="115.40" width="6.20" height="6.20"/>
<rect x="335.50" y="110.90" width="6.20" height="6.20"/>
<rect x="165.70" y="109.40" width="6.20" height="6.20"/>
</g>
<rect x="250.40" y="210.10" width="6.20" height="6.20" fill="#5a5a5a" stroke="#333" stroke-width="1.5"/>
<text x="1.6" y="23.8" font-size="32" font-weight="bold">A</text>
<text x="159.7" y="26.9" font-size="31.8" text-anchor="middle">training set</text>
<text x="164" y="64.6" font-size="31.8" text-anchor="middle">(n=63)</text>
<text x="420.1" y="26.6" font-size="31.9" text-anchor="middle">blinded set</text>
<text x="416" y="64.6" font-size="31.8" text-anchor="middle">(n=599)</text>
<text transform="translate(21.9 241.9) rotate(-90)" font-size="24.3" text-anchor="middle">Factor F</text>
<text x="165" y="433.5" font-size="24.8" text-anchor="middle">aGvHD</text>
<text x="256" y="433.5" font-size="24.8" text-anchor="middle">control</text>
<text x="347.5" y="433.5" font-size="24.8" text-anchor="middle">aGvHD</text>
<text x="439.2" y="433.5" font-size="24.8" text-anchor="middle">control</text>
<text x="0.3" y="496" font-size="32" font-weight="bold">B</text>
<rect x="80.7" y="481.8" width="361.6" height="361.2" fill="none" stroke="#000" stroke-width="2.7"/>
<line x1="81" y1="831.8" x2="92" y2="831.8" stroke="#000" stroke-width="2"/>
<line x1="91.7" y1="842" x2="91.7" y2="831.7" stroke="#000" stroke-width="2"/>
<line x1="81" y1="814.8" x2="87" y2="814.8" stroke="#000" stroke-width="2"/>
<line x1="108.6" y1="842" x2="108.6" y2="836.5" stroke="#000" stroke-width="2"/>
<line x1="81" y1="797.9" x2="87" y2="797.9" stroke="#000" stroke-width="2"/>
<line x1="125.5" y1="842" x2="125.5" y2="836.5" stroke="#000" stroke-width="2"/>
<line x1="81" y1="780.9" x2="87" y2="780.9" stroke="#000" stroke-width="2"/>
<line x1="142.5" y1="842" x2="142.5" y2="836.5" stroke="#000" stroke-width="2"/>
<line x1="81" y1="764.0" x2="92" y2="764.0" stroke="#000" stroke-width="2"/>
<line x1="159.4" y1="842" x2="159.4" y2="831.7" stroke="#000" stroke-width="2"/>
<line x1="81" y1="747.0" x2="87" y2="747.0" stroke="#000" stroke-width="2"/>
<line x1="176.3" y1="842" x2="176.3" y2="836.5" stroke="#000" stroke-width="2"/>
<line x1="81" y1="730.1" x2="87" y2="730.1" stroke="#000" stroke-width="2"/>
<line x1="193.2" y1="842" x2="193.2" y2="836.5" stroke="#000" stroke-width="2"/>
<line x1="81" y1="713.1" x2="87" y2="713.1" stroke="#000" stroke-width="2"/>
<line x1="210.2" y1="842" x2="210.2" y2="836.5" stroke="#000" stroke-width="2"/>
<line x1="81" y1="696.2" x2="92" y2="696.2" stroke="#000" stroke-width="2"/>
<line x1="227.1" y1="842" x2="227.1" y2="831.7" stroke="#000" stroke-width="2"/>
<line x1="81" y1="679.2" x2="87" y2="679.2" stroke="#000" stroke-width="2"/>
<line x1="244.0" y1="842" x2="244.0" y2="836.5" stroke="#000" stroke-width="2"/>
<line x1="81" y1="662.3" x2="87" y2="662.3" stroke="#000" stroke-width="2"/>
<line x1="260.9" y1="842" x2="260.9" y2="836.5" stroke="#000" stroke-width="2"/>
<line x1="81" y1="645.3" x2="87" y2="645.3" stroke="#000" stroke-width="2"/>
<line x1="277.9" y1="842" x2="277.9" y2="836.5" stroke="#000" stroke-width="2"/>
<line x1="81" y1="628.4" x2="92" y2="628.4" stroke="#000" stroke-width="2"/>
<line x1="294.8" y1="842" x2="294.8" y2="831.7" stroke="#000" stroke-width="2"/>
<line x1="81" y1="611.4" x2="87" y2="611.4" stroke="#000" stroke-width="2"/>
<line x1="311.7" y1="842" x2="311.7" y2="836.5" stroke="#000" stroke-width="2"/>
<line x1="81" y1="594.5" x2="87" y2="594.5" stroke="#000" stroke-width="2"/>
<line x1="328.6" y1="842" x2="328.6" y2="836.5" stroke="#000" stroke-width="2"/>
<line x1="81" y1="577.5" x2="87" y2="577.5" stroke="#000" stroke-width="2"/>
<line x1="345.6" y1="842" x2="345.6" y2="836.5" stroke="#000" stroke-width="2"/>
<line x1="81" y1="560.6" x2="92" y2="560.6" stroke="#000" stroke-width="2"/>
<line x1="362.5" y1="842" x2="362.5" y2="831.7" stroke="#000" stroke-width="2"/>
<line x1="81" y1="543.6" x2="87" y2="543.6" stroke="#000" stroke-width="2"/>
<line x1="379.4" y1="842" x2="379.4" y2="836.5" stroke="#000" stroke-width="2"/>
<line x1="81" y1="526.7" x2="87" y2="526.7" stroke="#000" stroke-width="2"/>
<line x1="396.3" y1="842" x2="396.3" y2="836.5" stroke="#000" stroke-width="2"/>
<line x1="81" y1="509.7" x2="87" y2="509.7" stroke="#000" stroke-width="2"/>
<line x1="413.3" y1="842" x2="413.3" y2="836.5" stroke="#000" stroke-width="2"/>
<line x1="81" y1="492.8" x2="92" y2="492.8" stroke="#000" stroke-width="2"/>
<line x1="430.2" y1="842" x2="430.2" y2="831.7" stroke="#000" stroke-width="2"/>
<text x="75.2" y="841.3" font-size="20.3" text-anchor="end">0</text>
<text x="91.7" y="872.3" font-size="20.3" text-anchor="middle">0</text>
<text x="75.2" y="773.5" font-size="20.3" text-anchor="end">20</text>
<text x="159.4" y="872.3" font-size="20.3" text-anchor="middle">20</text>
<text x="75.2" y="705.7" font-size="20.3" text-anchor="end">40</text>
<text x="227.1" y="872.3" font-size="20.3" text-anchor="middle">40</text>
<text x="75.2" y="637.9" font-size="20.3" text-anchor="end">60</text>
<text x="294.8" y="872.3" font-size="20.3" text-anchor="middle">60</text>
<text x="75.2" y="570.1" font-size="20.3" text-anchor="end">80</text>
<text x="362.5" y="872.3" font-size="20.3" text-anchor="middle">80</text>
<text x="75.2" y="502.3" font-size="20.3" text-anchor="end">100</text>
<text x="430.2" y="872.3" font-size="20.3" text-anchor="middle">100</text>
<text x="260" y="904.5" font-size="20.5" text-anchor="middle">100-Specificity</text>
<text transform="translate(20.8 661.5) rotate(-90)" font-size="21" text-anchor="middle">Sensitivity</text>
<line x1="92" y1="831.5" x2="430.4" y2="492.5" stroke="#111" stroke-width="1.1"/>
<polyline points="92.3,831.5 92.2,790.0 92.2,755.0 92.6,750.0 93.0,720.0 93.0,717.7 94.2,717.7 94.5,710.0 94.7,680.0 95.8,679.2 97.8,678.8 98.5,676.9 98.9,673.1 99.3,670.0 99.6,667.0 99.6,665.0 100.9,665.0 100.9,663.0 102.3,663.0 102.3,660.0 103.5,660.0 103.8,653.8 103.8,650.8 105.8,650.8 105.8,648.1 106.3,648.1 106.3,645.4 106.9,645.4 107.3,640.8 107.7,635.4 107.7,634.2 108.8,634.2 110.8,633.8 110.8,620.0 111.0,615.4 111.0,612.8 111.8,612.8 111.8,610.2 112.7,610.2 112.7,608.0 113.3,608.0 113.3,605.9 114.0,605.9 114.0,603.7 114.7,603.7 114.7,601.5 115.3,601.5 115.3,599.2 115.9,599.2 115.9,596.9 116.4,596.9 116.4,594.6 117.0,594.6 117.0,592.5 117.3,592.5 117.3,590.4 117.7,590.4 117.7,588.4 118.0,588.4 118.0,586.3 118.4,586.3 118.4,584.2 118.7,584.2 118.7,581.9 119.6,581.9 119.6,579.6 120.4,579.6 120.4,577.3 121.3,577.3 121.3,576.5 123.5,576.5 123.5,575.6 125.7,575.6 126.5,565.2 126.5,563.4 128.7,563.4 128.7,561.5 130.8,561.5 130.8,558.8 133.0,558.8 133.0,556.1 135.2,556.1 135.2,554.8 137.8,554.8 137.8,553.5 140.4,553.5 144.7,552.7 144.7,551.0 146.0,551.0 146.0,549.2 147.3,549.2 147.3,546.6 148.2,546.6 148.2,544.0 149.0,544.0 149.0,541.4 150.3,541.4 150.3,538.8 151.6,538.8 151.6,538.0 153.8,538.0 153.8,537.1 155.9,537.1 155.9,535.1 156.5,535.1 156.5,533.0 157.1,533.0 157.1,531.0 157.7,531.0 157.7,529.3 159.4,529.3 164.6,528.4 164.6,526.7 167.2,526.7 171.5,525.8 173.5,525.3 173.5,523.0 174.8,523.0 174.8,520.7 176.1,520.7 180.4,520.1 180.4,519.1 182.6,519.1 182.6,518.1 184.7,518.1 189.0,517.2 189.0,516.6 191.2,516.6 191.2,516.0 193.4,516.0 217.6,516.0 217.6,513.8 218.2,513.8 218.2,511.6 218.7,511.6 218.7,509.4 219.3,509.4 219.3,508.1 221.4,508.1 221.4,506.8 223.6,506.8 223.6,505.5 226.2,505.5 226.2,504.2 228.8,504.2 228.8,503.4 230.9,503.4 230.9,502.5 233.1,502.5 253.0,502.5 253.0,499.9 254.8,499.9 254.8,499.1 257.2,499.1 257.2,498.4 259.5,498.4 259.5,497.6 261.9,497.6 292.2,497.6 292.2,497.1 293.9,497.1 293.9,496.6 295.7,496.6 304.3,496.6 304.3,495.2 306.0,495.2 340.0,495.0 340.0,494.6 341.9,494.6 341.9,494.2 343.9,494.2 343.9,493.8 345.8,493.8 345.8,493.4 347.7,493.4 347.7,492.9 349.6,492.9 349.6,492.5 351.5,492.5 430.4,492.5" fill="none" stroke="#000" stroke-width="1.5" stroke-dasharray="1.9 0.8"/>
<polyline points="92.5,831.5 92.5,828.2 93.7,828.2 93.7,825.1 95.2,825.1 95.2,823.2 95.8,823.2 95.8,821.2 96.4,821.2 96.8,817.4 97.5,812.0 97.5,808.9 99.1,808.9 99.1,806.6 100.2,806.6 101.0,801.2 101.0,798.9 101.0,796.6 102.5,796.6 102.5,794.7 104.1,794.7 104.0,785.4 104.0,783.8 106.4,783.8 106.4,771.5 106.4,769.2 107.9,769.2 107.9,754.6 109.1,754.2 112.9,753.8 112.9,751.9 113.9,751.9 113.9,750.0 114.9,750.0 114.9,743.8 114.9,741.5 117.2,741.5 117.2,739.2 120.3,739.2 120.3,737.7 122.2,737.7 122.6,731.5 122.6,729.2 124.9,729.2 124.9,726.2 126.5,726.2 126.5,724.6 128.0,724.6 128.0,722.4 128.2,722.4 128.2,720.3 128.4,720.3 128.4,718.1 128.6,718.1 128.6,716.0 128.8,716.0 128.8,713.8 129.0,713.8 129.0,711.9 131.4,711.9 131.9,700.0 132.6,691.5 132.6,690.2 134.3,690.2 134.3,689.0 136.0,689.0 136.0,687.0 136.4,687.0 136.4,685.0 136.9,685.0 136.9,683.1 137.4,683.1 137.4,681.1 137.8,681.1 137.8,678.5 139.1,678.5 139.1,676.0 140.4,676.0 140.4,673.7 141.3,673.7 141.3,671.3 142.1,671.3 142.1,669.0 143.0,669.0 143.8,660.4 143.8,657.8 145.1,657.8 145.1,655.2 146.4,655.2 146.4,653.0 147.7,653.0 147.7,650.9 149.0,650.9 149.0,649.5 150.8,649.5 150.8,648.2 152.5,648.2 153.3,639.6 153.3,637.9 154.2,637.9 154.2,636.1 155.1,636.1 155.1,634.4 157.2,634.4 157.2,632.7 159.4,632.7 159.4,631.0 161.2,631.0 161.2,629.2 162.9,629.2 162.9,627.5 164.6,627.5 164.6,625.7 166.3,625.7 166.3,625.0 168.1,625.0 168.1,624.4 169.8,624.4 176.1,624.9 176.1,623.1 176.9,623.1 176.9,621.4 177.8,621.4 177.8,619.2 178.7,619.2 178.7,617.1 179.5,617.1 179.5,614.5 180.3,614.5 180.3,611.9 181.2,611.9 181.2,609.3 182.1,609.3 182.1,606.7 183.0,606.7 183.0,605.0 183.8,605.0 183.8,603.3 184.7,603.3 190.8,602.4 191.6,593.7 191.6,590.8 193.4,590.8 201.1,590.3 202.0,587.7 209.8,586.8 209.8,584.4 210.2,584.4 210.2,582.0 210.7,582.0 210.7,579.7 211.1,579.7 211.1,577.3 211.5,577.3 220.2,577.3 220.2,574.7 222.8,574.7 228.8,573.8 229.7,571.2 255.6,571.2 256.5,566.9 257.4,562.6 257.4,560.7 258.4,560.7 258.4,558.7 259.3,558.7 259.3,556.5 261.1,556.5 261.1,554.4 262.8,554.4 262.8,552.7 265.0,552.7 265.0,551.0 267.1,551.0 267.1,548.8 269.7,548.8 269.7,546.6 272.3,546.6 273.2,545.4 290.5,545.4 290.5,543.5 291.4,543.5 291.4,541.6 292.2,541.6 292.2,539.7 293.1,539.7 293.1,539.1 295.4,539.1 295.4,538.6 297.7,538.6 297.7,538.0 300.0,538.0 300.8,535.0 331.1,535.0 332.0,530.2 340.6,530.2 341.5,526.4 377.5,526.2 377.5,523.8 378.4,523.8 378.4,521.3 379.4,521.3 379.4,519.2 379.6,519.2 379.6,517.1 379.7,517.1 379.7,515.0 379.9,515.0 379.9,513.0 380.1,513.0 380.1,510.9 380.2,510.9 380.2,508.8 380.4,508.8 381.3,507.3 430.4,507.3 430.4,492.5" fill="none" stroke="#000" stroke-width="1.5" stroke-dasharray="1.9 0.8"/>
<polyline points="92.5,831.5 92.5,792.0 92.9,790.0 93.3,786.2 93.3,783.8 94.8,783.8 94.8,773.8 95.6,770.8 96.4,767.7 96.8,756.9 96.8,754.6 98.3,754.6 98.4,739.2 98.4,737.7 99.5,737.7 99.5,718.8 100.7,718.1 103.4,718.1 103.4,716.2 105.3,716.2 105.7,713.1 105.7,708.0 105.7,705.4 107.4,705.4 107.4,703.1 109.3,703.1 109.3,701.5 111.6,701.5 111.6,694.6 111.6,692.7 112.2,692.7 112.2,690.8 112.8,690.8 112.8,687.7 114.3,687.7 115.1,683.1 115.8,678.5 116.6,674.6 116.6,673.1 118.2,673.1 119.5,672.3 119.5,652.3 119.5,650.8 120.8,650.8 123.1,650.0 123.1,647.7 124.6,647.7 125.0,638.5 125.0,636.2 126.2,636.2 126.2,633.8 127.7,633.8 128.5,631.5 129.2,630.8 129.2,623.8 129.2,622.3 130.8,622.3 130.8,616.2 130.8,613.1 132.3,613.1 132.3,611.5 133.8,611.5 138.5,611.5 138.8,598.5 138.8,596.9 140.0,596.9 142.3,596.5 143.1,595.0 146.2,594.6 146.2,591.5 147.7,591.5 148.5,589.6 152.3,588.8 153.1,586.2 158.5,585.4 158.5,583.5 160.0,583.5 160.0,582.5 162.0,582.5 162.0,580.5 162.6,580.5 162.6,578.4 163.1,578.4 163.1,576.4 163.7,576.4 163.7,574.1 164.6,574.1 164.6,571.8 165.4,571.8 165.4,569.5 166.3,569.5 166.3,567.8 168.9,567.8 168.9,566.0 170.2,566.0 170.2,564.3 171.5,564.3 171.5,561.7 173.2,561.7 173.5,556.1 177.8,555.3 177.8,553.5 180.4,553.5 180.4,551.8 183.0,551.8 190.8,550.9 190.8,548.9 191.7,548.9 191.7,546.9 192.5,546.9 192.5,544.9 193.4,544.9 193.4,544.3 196.0,544.3 196.0,543.7 198.5,543.7 198.5,543.1 201.1,543.1 201.1,540.6 203.7,540.6 208.9,539.7 208.9,538.5 211.5,538.5 236.6,538.5 237.5,531.9 237.5,529.8 238.8,529.8 238.8,527.6 240.1,527.6 240.1,526.3 242.2,526.3 242.2,525.0 244.4,525.0 244.4,522.4 247.0,522.4 247.0,521.5 249.2,521.5 249.2,520.7 251.3,520.7 251.3,518.4 253.9,518.4 271.4,518.0 271.4,515.5 272.7,515.5 272.7,512.9 274.0,512.9 281.0,512.0 281.0,509.8 282.7,509.8 313.0,509.8 313.0,506.8 314.7,506.8 322.5,506.8 322.5,504.6 324.2,504.6 361.2,504.0 361.2,502.1 364.0,502.1 364.0,499.2 366.0,499.2 366.0,497.0 366.3,497.0 366.3,494.7 366.7,494.7 366.7,492.5 367.0,492.5 430.4,492.5" fill="none" stroke="#000" stroke-width="3.1" stroke-linejoin="miter"/>
</svg>
</body></html>
